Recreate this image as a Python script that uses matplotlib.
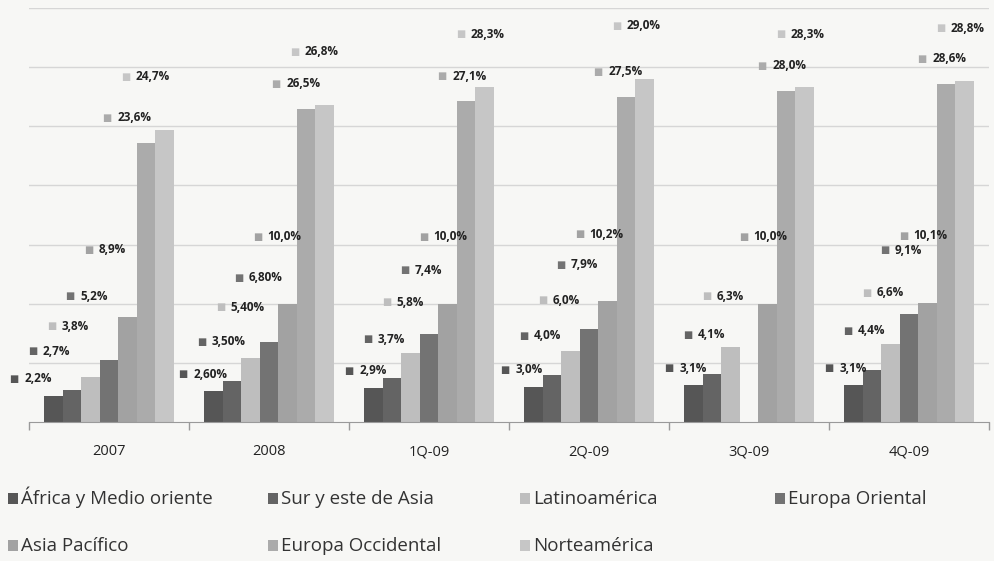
import numpy as np
import matplotlib
matplotlib.use('Agg')
import matplotlib.pyplot as plt
from matplotlib.patches import Rectangle

# ---- datos (% de participación por región) ----
periodos = ['2007', '2008', '1Q-09', '2Q-09', '3Q-09', '4Q-09']

regiones = ['África y Medio oriente', 'Sur y este de Asia', 'Latinoamérica',
            'Europa Oriental', 'Asia Pacífico', 'Europa Occidental', 'Norteamérica']

africa       = [2.2, 2.60, 2.9, 3.0, 3.1, 3.1]
sur_asia     = [2.7, 3.50, 3.7, 4.0, 4.1, 4.4]
latino       = [3.8, 5.40, 5.8, 6.0, 6.3, 6.6]
europa_or    = [5.2, 6.80, 7.4, 7.9, np.nan, 9.1]
asia_pac     = [8.9, 10.0, 10.0, 10.2, 10.0, 10.1]
europa_occ   = [23.6, 26.5, 27.1, 27.5, 28.0, 28.6]
norteamerica = [24.7, 26.8, 28.3, 29.0, 28.3, 28.8]

# decimales con que aparece cada etiqueta (2008 trae dos decimales)
decimales_periodo = [1, 2, 1, 1, 1, 1]

series = [africa, sur_asia, latino, europa_or, asia_pac, europa_occ, norteamerica]

# ---- estilo ----
colores = ['#565656', '#646464', '#bebebe', '#737373', '#a2a2a2', '#ababab', '#c6c6c6']
dy_px = [17, 39, 51, 64, 67, 25, 53]          # desplazamiento vertical de cada etiqueta
dx_px = [-15, -6, 0, -4, 0, 0]                # corrimiento horizontal por periodo
fondo = '#f7f7f5'
fuente = ['Open Sans', 'DejaVu Sans']

fig = plt.figure(figsize=(9.95, 5.61), dpi=100, facecolor=fondo)
ax = fig.add_axes([29/995, 1 - 422/561, 960/995, 414/561])
ax.set_facecolor(fondo)

x = np.arange(len(periodos))
w = 130 / 160 / 7

for i, (vals, col) in enumerate(zip(series, colores)):
    pos = x + (i - 3) * w
    ax.bar(pos, vals, width=w, color=col, edgecolor='none', zorder=2)
    for j, (px, v) in enumerate(zip(pos, vals)):
        if np.isnan(v):
            continue
        d = decimales_periodo[j] if v < 10 else 1
        txt = f'{v:.{d}f}'.replace('.', ',') + '%'
        ox = dx_px[j] * 0.72
        oy = dy_px[i] * 0.72
        ax.annotate('■', xy=(px, v), xytext=(ox - 14, oy), textcoords='offset points',
                    ha='right', va='center', fontsize=7, color=col,
                    family='DejaVu Sans', zorder=4)
        ax.annotate(txt, xy=(px, v), xytext=(ox - 10, oy), textcoords='offset points',
                    ha='left', va='center', fontsize=8.5, fontweight='bold',
                    color='#222222', family=fuente, zorder=4)

ax.set_xlim(-0.5, len(periodos) - 0.5)
ax.set_ylim(0, 35)
ax.set_yticks(np.arange(5, 36, 5))
ax.yaxis.grid(True, color='#d6d6d6', linewidth=1.0, zorder=0)
ax.tick_params(axis='y', left=False, labelleft=False)

ax.set_xticks(x)
ax.set_xticklabels(periodos, fontsize=10.5, family=fuente, color='#222222')
ax.set_xticks(np.arange(-0.5, len(periodos), 1), minor=True)
ax.tick_params(axis='x', which='major', length=0, pad=16)
ax.tick_params(axis='x', which='minor', length=6, color='#9a9a9a', width=1)

for s in ['top', 'right', 'left']:
    ax.spines[s].set_visible(False)
ax.spines['bottom'].set_color('#9a9a9a')

# ---- leyenda en dos filas con columnas fijas, como en Excel ----
col_x = [8, 268, 520, 775]
fila_y = [504, 551]      # línea base del texto
for k, (nombre, col) in enumerate(zip(regiones, colores)):
    fila, c = divmod(k, 4)
    xp, yp = col_x[c], fila_y[fila]
    fig.patches.append(Rectangle((xp / 995, 1 - yp / 561), 10 / 995, 11 / 561,
                                 transform=fig.transFigure, facecolor=col,
                                 edgecolor='none'))
    fig.text((xp + 13) / 995, 1 - yp / 561, nombre, ha='left', va='baseline',
             fontsize=13.5, family=fuente, color='#333333')

fig.savefig('out.png', dpi=100, facecolor=fondo)
